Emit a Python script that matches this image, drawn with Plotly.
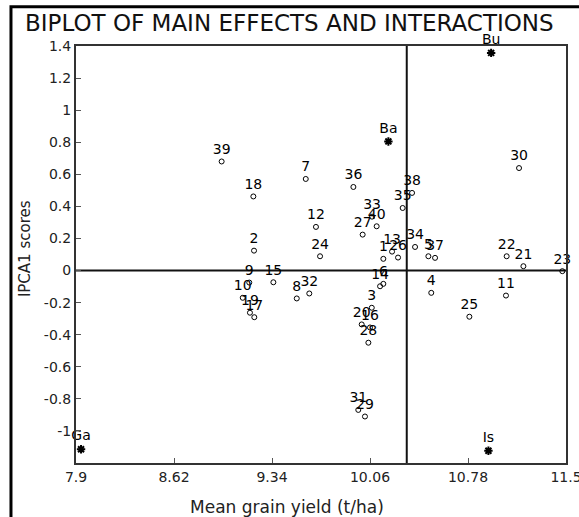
import plotly.graph_objects as go

# ---------------- data ----------------
geno_labels = [str(i) for i in range(1, 41)]
geno_yield = [10.158, 9.208, 10.073, 10.51, 10.489, 10.158, 9.588, 9.522, 9.173, 9.125,
              11.059, 9.663, 10.222, 10.134, 9.35, 10.06, 9.21, 9.203, 9.178, 9.999,
              11.187, 11.064, 11.473, 9.693, 10.79, 10.266, 10.006, 10.048, 10.023, 11.155,
              9.974, 9.614, 10.075, 10.391, 10.30, 9.938, 10.538, 10.369, 8.97, 10.109]
geno_ipca1 = [0.073, 0.124, -0.232, -0.139, 0.089, -0.083, 0.571, -0.174, -0.075, -0.170,
              -0.156, 0.272, 0.118, -0.098, -0.073, -0.355, -0.291, 0.462, -0.263, -0.336,
              0.027, 0.089, -0.004, 0.089, -0.288, 0.081, 0.224, -0.450, -0.910, 0.639,
              -0.869, -0.143, 0.336, 0.147, 0.390, 0.521, 0.079, 0.484, 0.680, 0.276]

env_labels = ["Bu", "Ba", "Ga", "Is"]
env_yield = [10.95, 10.195, 7.937, 10.93]
env_ipca1 = [1.357, 0.805, -1.114, -1.124]

GRAND_MEAN = 10.33

x_tickvals = [7.9, 8.62, 9.34, 10.06, 10.78, 11.5]
x_ticktext = ["7.9", "8.62", "9.34", "10.06", "10.78", "11.5"]
y_tickvals = [-1, -0.8, -0.6, -0.4, -0.2, 0, 0.2, 0.4, 0.6, 0.8, 1, 1.2, 1.4]
y_ticktext = ["-1", "-0.8", "-0.6", "-0.4", "-0.2", "0", "0.2", "0.4", "0.6", "0.8", "1", "1.2", "1.4"]

FONT = "DejaVu Sans"

fig = go.Figure()
fig.add_trace(go.Scatter(
    x=geno_yield, y=geno_ipca1, mode="markers+text", text=geno_labels,
    textposition="top center",
    marker=dict(symbol="circle-open", size=5, color="black", line=dict(width=1, color="black")),
    textfont=dict(family=FONT, size=14, color="black"),
    cliponaxis=False, showlegend=False, hoverinfo="skip"))
fig.add_trace(go.Scatter(
    x=env_yield, y=env_ipca1, mode="markers+text", text=env_labels,
    textposition="top center",
    marker=dict(symbol="asterisk-open", size=7, color="black", line=dict(width=2, color="black")),
    textfont=dict(family=FONT, size=14, color="black"),
    cliponaxis=False, showlegend=False, hoverinfo="skip"))

# reference lines
fig.add_shape(type="line", xref="paper", yref="y", x0=0, x1=1, y0=0, y1=0,
              line=dict(color="#111", width=2), layer="below")
fig.add_shape(type="line", xref="x", yref="paper", x0=GRAND_MEAN, x1=GRAND_MEAN, y0=0, y1=1,
              line=dict(color="#111", width=2), layer="below")
# outer frame (left and top edges visible; others fall outside the page)
fig.add_shape(type="rect", xref="paper", yref="paper",
              x0=-0.1327, x1=1.2, y0=-0.3, y1=1.094,
              line=dict(color="black", width=3), fillcolor="rgba(0,0,0,0)")

fig.update_xaxes(range=[7.9, 11.5], tickvals=x_tickvals, ticktext=x_ticktext,
                 showline=True, mirror=True, linecolor="#333", linewidth=2,
                 ticks="inside", ticklen=5, tickcolor="#555", showgrid=False, zeroline=False,
                 ticklabeloverflow="allow", automargin=False,
                 tickfont=dict(family=FONT, size=14, color="#222"))
fig.update_yaxes(range=[-1.2, 1.4], tickvals=y_tickvals, ticktext=y_ticktext,
                 showline=True, mirror=True, linecolor="#333", linewidth=2,
                 ticks="inside", ticklen=5, tickcolor="#555", showgrid=False, zeroline=False,
                 ticklabeloverflow="allow", automargin=False,
                 tickfont=dict(family=FONT, size=14, color="#222"))

fig.update_layout(
    width=579, height=517,
    margin=dict(l=76, r=13, t=46, b=54, autoexpand=False),
    paper_bgcolor="white", plot_bgcolor="white",
    annotations=[
        dict(text="BIPLOT OF MAIN EFFECTS AND INTERACTIONS", xref="paper", yref="paper",
             x=0.4347, y=1.055, xanchor="center", yanchor="middle", showarrow=False,
             font=dict(family=FONT, size=23, color="#111")),
        dict(text="Mean grain yield (t/ha)", xref="paper", yref="paper",
             x=0.4306, y=-0.1055, xanchor="center", yanchor="middle", showarrow=False,
             font=dict(family=FONT, size=17, color="#222")),
        dict(text="IPCA1 scores", xref="paper", yref="paper", textangle=-90,
             x=-0.104, y=0.513, xanchor="center", yanchor="middle", showarrow=False,
             font=dict(family=FONT, size=15, color="#222")),
    ],
)

fig.write_html("out.html", config={"displayModeBar": False},
               post_script="document.body.style.margin='0';")
